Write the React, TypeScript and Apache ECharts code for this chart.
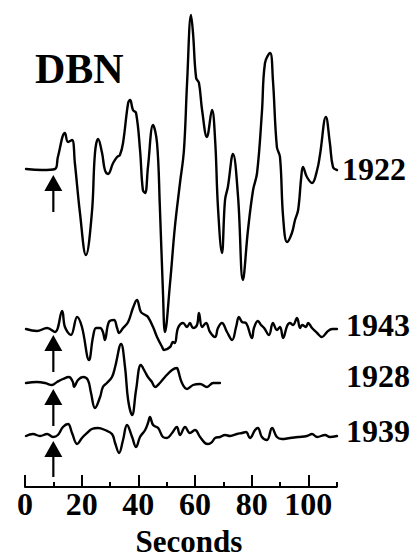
import React, { useEffect, useRef } from 'react';
import * as echarts from 'echarts';

// ---- Data (seconds, relative amplitude) ----
const station = 'DBN';
const years = ['1922', '1943', '1928', '1939'];
const arrivalTime = [10, 10, 10, 10];
const majorTicks = [0, 20, 40, 60, 80, 100];
const axisTitle = 'Seconds';

const time1922 = [0.35, 6.0, 10.6, 11.6, 14.1, 15.2, 16.6, 17.6, 19.4, 21.5, 23.6, 24.7, 25.8, 27.2, 28.2, 29.3, 31.1, 32.5, 33.5, 34.6, 36.4, 37.1, 38.1, 39.2, 40.6, 41.6, 42.4, 43.4, 45.2, 46.6, 47.6, 48.7, 49.4, 51.2, 52.9, 54.7, 56.1, 57.2, 58.6, 59.3, 60.4, 61.4, 62.5, 64.2, 66.0, 67.1, 68.1, 69.5, 70.6, 71.6, 73.4, 75.2, 76.9, 78.7, 80.5, 81.9, 83.6, 84.7, 86.5, 87.5, 88.9, 90.0, 91.1, 92.5, 94.2, 95.3, 96.4, 97.5, 98.1, 99.5, 101.3, 103.1, 104.1, 106.2, 107.6, 108.7, 110.1];
const amp1922 = [0, -1, 0, 12, 36, 27, 29, 6, -44, -86, -44, 16, 30, 16, -1, -5, 6, 12, 14, 26, 66, 69, 59, 56, 19, -21, -24, 2, 44, 26, -38, -124, -163, -114, -58, -14, 19, 86, 154, 136, 91, 86, 59, 32, 59, 29, -38, -84, -31, -18, 15, -28, -111, -61, -21, -4, 56, 106, 116, 89, 22, 12, -48, -73, -64, -51, -41, -8, 2, -8, -14, -1, 14, 52, 26, 2, -1];

const time1943 = [0.35, 4.2, 7.8, 10.6, 13.1, 14.1, 16.2, 18.4, 20.1, 22.6, 24.0, 25.1, 26.5, 27.5, 28.2, 29.6, 31.4, 32.5, 33.2, 34.6, 36.4, 38.1, 39.5, 40.9, 42.4, 43.4, 45.2, 46.6, 48.4, 49.1, 51.2, 52.2, 52.9, 54.0, 55.8, 57.2, 58.2, 59.3, 60.7, 61.4, 62.5, 63.9, 65.3, 67.1, 68.1, 69.5, 71.3, 73.1, 74.5, 75.5, 76.6, 78.0, 80.1, 80.8, 82.2, 83.3, 84.4, 86.1, 87.5, 88.9, 90.0, 91.1, 92.5, 93.5, 94.6, 96.0, 97.1, 97.8, 99.2, 99.9, 101.3, 103.1, 104.8, 106.6, 108.4, 110.1];
const amp1943 = [0, -2, 1, -3, 18, 2, -6, 12, 2, -31, -8, 1, 1, -3, -11, 7, 9, 1, -4, 1, 7, 21, 29, 17, 14, 12, 2, -8, -18, -21, -18, -13, -14, 1, 6, 2, 6, 1, 4, 16, 2, 6, -3, -8, 1, 6, -3, -11, 2, 12, 7, 6, -9, 1, 8, 4, 1, -6, 6, -1, 2, -9, 3, 6, 4, 11, 1, 4, 2, 6, 1, -4, -8, -3, 0, 0];

const time1928 = [0.35, 4.2, 7.1, 9.5, 11.3, 13.4, 15.5, 16.9, 17.3, 18.7, 20.5, 22.2, 23.3, 24.7, 26.5, 27.5, 28.9, 30.7, 31.8, 33.9, 35.3, 36.4, 37.8, 39.2, 40.9, 42.4, 43.4, 44.8, 45.9, 47.6, 49.4, 51.9, 53.6, 54.0, 55.4, 57.2, 59.3, 61.8, 64.2, 66.4, 68.8];
const amp1928 = [0, 1, 0, -2, 1, 4, 6, 1, -4, 3, 6, 3, -10, -25, -14, -4, 0, 6, 16, 39, 16, -17, -32, -7, 18, 11, 6, 1, -4, 0, 6, 13, 15, 13, 0, -6, -2, -1, -4, 0, 0];

const time1939 = [0.35, 2.8, 5.3, 7.8, 9.9, 11.6, 13.4, 15.2, 16.6, 18.4, 20.1, 21.9, 23.6, 25.8, 28.2, 30.7, 31.8, 33.2, 34.6, 36.0, 37.8, 39.2, 40.6, 42.4, 43.4, 44.1, 45.2, 47.0, 48.7, 50.1, 51.9, 53.6, 54.7, 56.5, 58.2, 60.0, 61.8, 63.5, 64.6, 66.0, 67.1, 68.8, 70.6, 72.4, 74.8, 76.6, 78.0, 79.4, 81.2, 82.2, 83.6, 85.4, 87.2, 88.9, 90.7, 93.5, 96.4, 99.5, 101.3, 103.1, 105.9, 107.6, 110.1];
const amp1939 = [-1, 1, -1, 1, -2, 0, 8, 11, 2, -9, -3, 2, 6, 7, 5, 1, -8, -18, -5, 10, -2, -12, -2, 5, 12, 18, 10, 7, -2, -3, 2, 8, 0, 8, 2, 5, -2, -8, -9, -7, -3, -2, 0, -1, 1, 2, 3, -3, 5, 7, -2, -5, 7, -2, -4, -3, -2, -1, 1, -2, 0, -2, -1];

// ---- Layout (pixel-based vertical frame) ----
const W = 413;
const H = 558;
const Y_MAX = 487;
const baselineOffsets = [318, 158, 104, 52];
const FONT = '"Liberation Serif", "Times New Roman", Times, serif';

const traces = [
  [time1922, amp1922],
  [time1943, amp1943],
  [time1928, amp1928],
  [time1939, amp1939],
];

export default function App() {
  const ref = useRef<HTMLDivElement>(null);

  useEffect(() => {
    if (!ref.current) return;
    const chart = echarts.init(ref.current, undefined, { renderer: 'svg' });

    const lineSeries = traces.map(([t, a], k) => ({
      type: 'line',
      name: years[k],
      xAxisIndex: 0,
      yAxisIndex: 0,
      data: t.map((x, i) => [x, baselineOffsets[k] + a[i]]),
      showSymbol: false,
      symbol: 'none',
      smooth: 0.4,
      lineStyle: { color: '#000', width: 2.4, join: 'round', cap: 'round' },
      silent: true,
      z: 3,
    }));

    const arrowSeries = {
      type: 'custom',
      xAxisIndex: 0,
      yAxisIndex: 0,
      data: arrivalTime.map((t, k) => [t, baselineOffsets[k]]),
      silent: true,
      z: 4,
      renderItem: (params: any, api: any) => {
        const p = api.coord([api.value(0), api.value(1)]);
        const tipY = p[1] + 6;
        const headH = 16;
        const headW = 18;
        const len = params.dataIndex === 3 ? 36 : 37;
        return {
          type: 'group',
          children: [
            {
              type: 'polygon',
              shape: {
                points: [
                  [p[0], tipY],
                  [p[0] - headW / 2, tipY + headH],
                  [p[0] + headW / 2, tipY + headH],
                ],
              },
              style: { fill: '#000' },
            },
            {
              type: 'line',
              shape: { x1: p[0], y1: tipY + headH - 1, x2: p[0], y2: tipY + len },
              style: { stroke: '#000', lineWidth: 2.2 },
            },
          ],
        };
      },
    };

    const labelY = [169, 324.5, 375.5, 430.5];
    const labelX = [342, 346, 346, 346];

    const graphics: any[] = years.map((y, k) => ({
      type: 'text',
      x: labelX[k],
      y: labelY[k],
      style: {
        text: y,
        font: `bold 32px ${FONT}`,
        fill: '#000',
        textAlign: 'left',
        textVerticalAlign: 'middle',
        verticalAlign: 'middle',
      },
      silent: true,
    }));
    graphics.push({
      type: 'text',
      x: 35,
      y: 69,
      style: {
        text: station,
        font: `bold 42px ${FONT}`,
        fill: '#000',
        textAlign: 'left',
        textVerticalAlign: 'middle',
        verticalAlign: 'middle',
      },
      silent: true,
    });
    graphics.push({
      type: 'text',
      x: 189,
      y: 541,
      style: {
        text: axisTitle,
        font: `bold 31px ${FONT}`,
        fill: '#000',
        textAlign: 'center',
        textVerticalAlign: 'middle',
        verticalAlign: 'middle',
      },
      silent: true,
    });

    chart.setOption({
      animation: false,
      backgroundColor: '#fff',
      grid: { left: 25, width: 311.67, top: 0, height: Y_MAX, containLabel: false },
      xAxis: [
        {
          type: 'value',
          min: 0,
          max: 110,
          interval: 10,
          position: 'bottom',
          axisLine: { show: true, onZero: false, lineStyle: { color: '#000', width: 2 } },
          axisTick: { show: true, inside: true, length: 5, lineStyle: { color: '#000', width: 2 } },
          axisLabel: { show: false },
          splitLine: { show: false },
        },
        {
          type: 'value',
          min: 0,
          max: 110,
          interval: 20,
          position: 'bottom',
          axisLine: { show: false, onZero: false },
          axisTick: {
            show: true,
            inside: true,
            length: 12,
            customValues: majorTicks,
            lineStyle: { color: '#000', width: 2 },
          },
          axisLabel: {
            show: true,
            customValues: majorTicks,
            fontFamily: FONT,
            fontWeight: 'bold',
            fontSize: 32,
            color: '#000',
            margin: 17,
            verticalAlign: 'middle',
          },
          splitLine: { show: false },
        },
      ],
      yAxis: {
        type: 'value',
        min: 0,
        max: Y_MAX,
        show: false,
        splitLine: { show: false },
      },
      series: [...lineSeries, arrowSeries],
      graphic: graphics,
    });

    return () => {
      chart.dispose();
    };
  }, []);

  return (
    <div
      ref={ref}
      style={{ position: 'absolute', left: 0, top: 0, width: W, height: H, background: '#fff' }}
    />
  );
}
